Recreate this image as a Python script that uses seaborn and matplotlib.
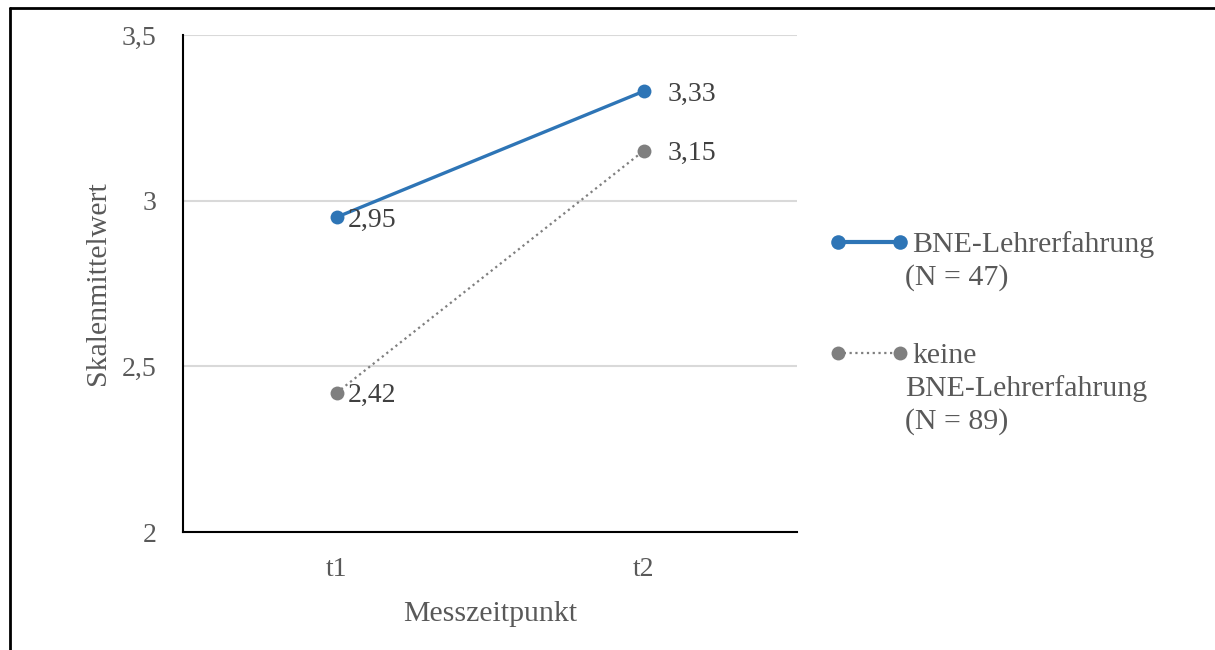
import matplotlib
matplotlib.use("Agg")
import matplotlib.pyplot as plt
from matplotlib.lines import Line2D
import seaborn as sns
import pandas as pd

# Data
time_points = ["t1", "t2"]
series_names = ["BNE-Lehrerfahrung", "keine BNE-Lehrerfahrung"]
with_experience = [2.95, 3.33]
without_experience = [2.42, 3.15]
legend_lines = [["BNE-Lehrerfahrung", "(N = 47)"],
                ["keine", "BNE-Lehrerfahrung", "(N = 89)"]]
y_ticks = [2, 2.5, 3, 3.5]
y_tick_labels = ["2", "2,5", "3", "3,5"]

sns.set_theme(style="white")
plt.rcParams["font.family"] = ["Liberation Serif", "DejaVu Serif"]

BLUE = "#2E75B6"
GREY = "#7F7F7F"
TEXT = "#595959"
LABEL = "#404040"

df = pd.DataFrame({
    "pos": list(range(len(time_points))) * 2,
    "wert": with_experience + without_experience,
    "gruppe": [series_names[0]] * 2 + [series_names[1]] * 2,
})

fig = plt.figure(figsize=(12.15, 6.5), dpi=100)
ax = fig.add_axes([183 / 1215, 118 / 650, 614 / 1215, 497 / 650])

styles = {
    series_names[0]: dict(color=BLUE, linestyle="-", linewidth=2.4, marker="o",
                          markersize=10, markeredgewidth=0),
    series_names[1]: dict(color=GREY, linestyle=(0, (1, 1.6)), linewidth=1.6,
                          marker="o", markersize=10, markeredgewidth=0),
}
for name in series_names:
    sub = df[df["gruppe"] == name]
    sns.lineplot(data=sub, x="pos", y="wert", ax=ax, legend=False, **styles[name])

# Value labels to the right of each point
offsets = [8, 17]
for vals in (with_experience, without_experience):
    for i, v in enumerate(vals):
        ax.annotate(f"{v:.2f}".replace(".", ","), xy=(i, v),
                    xytext=(offsets[i], -2), textcoords="offset points",
                    ha="left", va="center", fontsize=20, color=LABEL)

ax.set_xlim(-0.5, 1.5)
ax.set_ylim(2, 3.5)
ax.set_xticks(range(len(time_points)))
ax.set_xticklabels(time_points)
ax.set_yticks(y_ticks)
ax.set_yticklabels(y_tick_labels)
ax.tick_params(axis="both", length=0, labelsize=20, labelcolor=TEXT)
ax.tick_params(axis="x", pad=18)
ax.tick_params(axis="y", pad=19)
ax.yaxis.grid(True, color="#D9D9D9", linewidth=1.5)
ax.set_axisbelow(True)
for side in ("top", "right"):
    ax.spines[side].set_visible(False)
for side in ("left", "bottom"):
    ax.spines[side].set_color("black")
    ax.spines[side].set_linewidth(1.5)
ax.set_xlabel("Messzeitpunkt", fontsize=21.5, color=TEXT, labelpad=14)
ax.set_ylabel("Skalenmittelwert", fontsize=21.5, color=TEXT, labelpad=8)

# Legend drawn beside the plot area
W, H = 1215, 650
def fx(px):
    return px / W
def fy(py):
    return 1 - py / H

legend_handles = [
    dict(color=BLUE, linestyle="-", linewidth=3, marker="o", markersize=10.5,
         markeredgewidth=0),
    dict(color=GREY, linestyle=(0, (1, 1.6)), linewidth=1.6, marker="o",
         markersize=10, markeredgewidth=0),
]
entry_centers = [242, 353]
for style, lines, yc in zip(legend_handles, legend_lines, entry_centers):
    fig.add_artist(Line2D([fx(838), fx(900)], [fy(yc), fy(yc)],
                          transform=fig.transFigure, **style))
    for k, line in enumerate(lines):
        x0 = 912 if k == 0 else 905
        fig.text(fx(x0), fy(yc + 10 + 33 * k), line, fontsize=21.5, color=TEXT,
                 ha="left", va="baseline")

# Outer frame (left and top edges)
fig.add_artist(Line2D([fx(10), fx(10)], [fy(8), 0], transform=fig.transFigure,
                      color="black", linewidth=2))
fig.add_artist(Line2D([fx(10), 1], [fy(8), fy(8)], transform=fig.transFigure,
                      color="black", linewidth=2))

fig.savefig("out.png", dpi=100, facecolor="white")
